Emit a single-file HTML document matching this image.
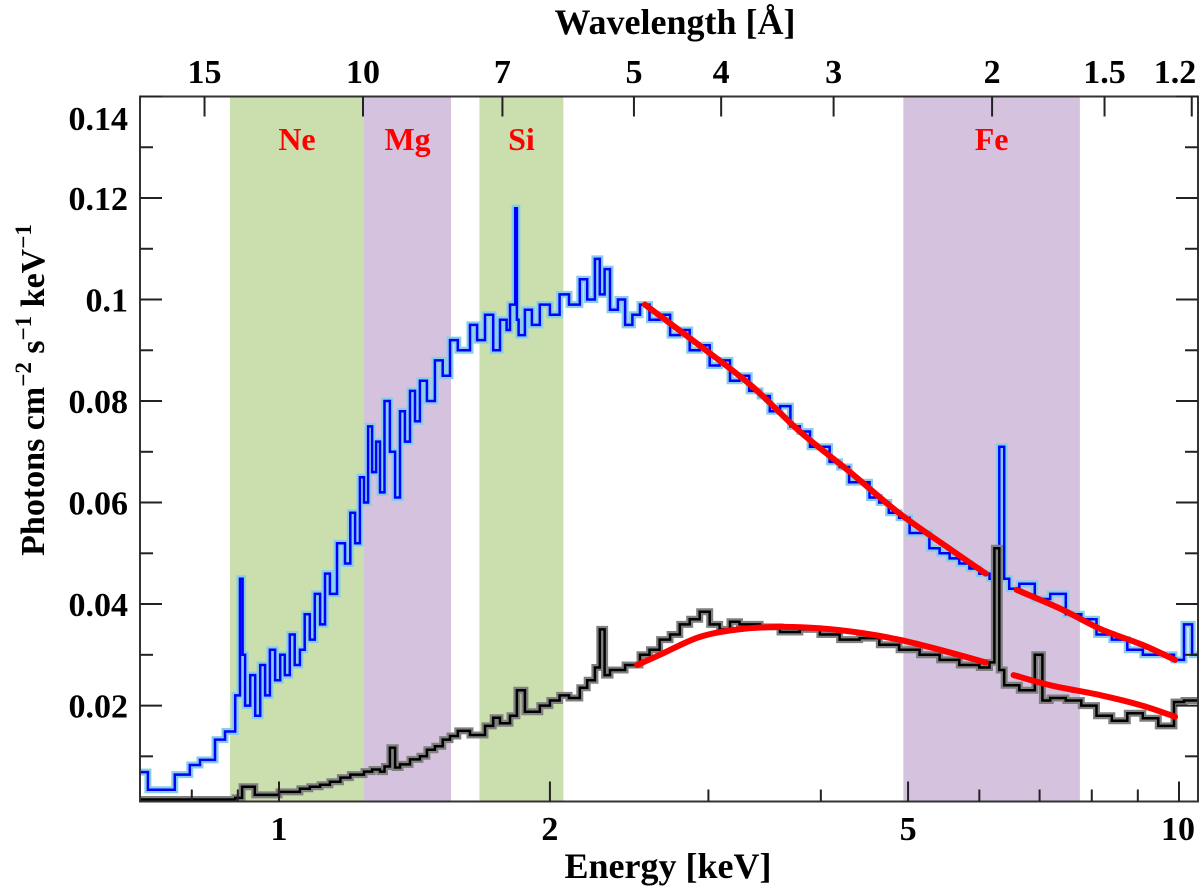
<!DOCTYPE html>
<html><head><meta charset="utf-8"><style>
body{margin:0;background:#fff}
svg text{font-family:"Liberation Serif",serif;font-weight:bold}
</style></head><body>
<svg id="chart" width="1200" height="890" viewBox="0 0 1200 890" xmlns="http://www.w3.org/2000/svg"></svg>
<script>
// ---- data ----
const blueE = [0.701,0.715,0.738,0.766,0.796,0.817,0.849,0.871,0.894,0.905,0.911,0.917,0.929,0.941,0.953,0.965,0.977,0.99,1.003,1.015,1.028,1.041,1.055,1.068,1.082,1.096,1.111,1.125,1.139,1.16,1.184,1.2,1.215,1.23,1.243,1.256,1.269,1.282,1.295,1.31,1.328,1.346,1.363,1.38,1.398,1.416,1.434,1.46,1.49,1.52,1.549,1.58,1.63,1.66,1.694,1.73,1.76,1.79,1.806,1.83,1.838,1.846,1.876,1.91,1.949,2.0,2.05,2.1,2.159,2.2,2.244,2.272,2.3,2.332,2.38,2.424,2.47,2.518,2.58,2.648,2.72,2.788,2.86,2.934,3.01,3.087,3.17,3.248,3.33,3.424,3.51,3.603,3.7,3.79,3.89,3.99,4.09,4.196,4.3,4.417,4.53,4.645,4.76,4.887,5.02,5.15,5.28,5.42,5.56,5.7,5.85,6.0,6.158,6.236,6.314,6.394,6.477,6.646,6.914,7.192,7.485,7.788,8.098,8.42,8.762,9.115,9.485,9.872,10.13,10.34,10.5];
const blueV = [0.0069,0.0034,0.0034,0.0064,0.0083,0.0093,0.0133,0.0149,0.022,0.045,0.030,0.020,0.026,0.018,0.028,0.022,0.031,0.025,0.030,0.026,0.034,0.028,0.031,0.038,0.033,0.042,0.036,0.046,0.042,0.052,0.048,0.058,0.052,0.065,0.060,0.075,0.066,0.072,0.062,0.080,0.070,0.061,0.078,0.072,0.082,0.076,0.084,0.080,0.088,0.085,0.092,0.090,0.095,0.092,0.097,0.090,0.096,0.094,0.099,0.118,0.096,0.093,0.098,0.095,0.099,0.097,0.101,0.099,0.104,0.100,0.108,0.101,0.106,0.098,0.100,0.095,0.097,
0.099,0.096,0.097,0.093,0.094,0.090,0.091,0.087,0.088,0.084,0.085,0.082,0.081,0.078,0.079,0.075,0.074,0.071,0.071,0.068,0.067,0.064,0.064,0.061,0.060,0.058,0.057,0.054,0.054,0.051,0.050,0.049,0.048,0.047,0.046,0.045,0.050,0.071,0.045,0.043,0.044,0.041,0.042,0.038,0.037,0.034,0.033,0.031,0.030,0.030,0.029,0.036,0.030,0.030];
const blackE = [0.701,0.894,0.91,0.94,0.97,1.0,1.028,1.055,1.082,1.111,1.139,1.17,1.2,1.243,1.269,1.295,1.31,1.328,1.346,1.363,1.398,1.434,1.46,1.49,1.52,1.549,1.58,1.63,1.694,1.73,1.76,1.806,1.838,1.876,1.949,2.0,2.05,2.1,2.159,2.2,2.244,2.272,2.3,2.332,2.424,2.518,2.58,2.648,2.72,2.788,2.86,2.934,3.01,3.087,3.17,3.248,3.424,3.603,3.79,3.99,4.196,4.417,4.645,4.887,5.15,5.42,5.7,6.0,6.158,6.236,6.314,6.394,6.646,6.914,7.05,7.192,7.485,7.788,8.098,8.42,8.762,9.115,9.485,9.872,10.13,10.5];
const blackV = [0.0015,0.0018,0.0040,0.0024,0.0024,0.0030,0.0030,0.0036,0.0040,0.0044,0.0050,0.0058,0.0064,0.0070,0.0074,0.0070,0.0080,0.0117,0.0078,0.0084,0.0094,0.0100,0.0113,0.0120,0.0133,0.0140,0.0150,0.0142,0.0160,0.0176,0.0165,0.0180,0.0230,0.0188,0.0200,0.0210,0.0220,0.0215,0.0235,0.0250,0.0275,0.0350,0.0260,0.0270,0.0280,0.0300,0.0310,0.0330,0.0340,0.0360,0.0370,0.0385,0.0360,0.0350,0.0365,0.0360,0.0355,0.0345,0.0350,0.0340,0.0330,0.0333,0.0320,0.0310,0.0300,0.0290,0.0280,0.0275,0.0285,0.0510,0.0270,0.0240,0.0230,0.0300,0.0210,0.0215,0.0210,0.0200,0.0180,0.0170,0.0185,0.0175,0.0160,0.0207,0.0210,0.0210];
const modelBlueE1 = [2.55,2.93,3.35,3.79,4.31,4.88,5.55,6.1];
const modelBlueV1 = [0.099,0.091,0.083,0.074,0.066,0.058,0.051,0.046];
const modelBlueE2 = [6.6,7.4,8.2,9.1,9.9];
const modelBlueV2 = [0.0428,0.039,0.035,0.032,0.029];
const modelBlackE1 = [2.5,2.65,2.93,3.24,3.6,4.0,4.44,4.88,5.42,6.1];
const modelBlackV1 = [0.028,0.030,0.0335,0.035,0.0355,0.0352,0.0343,0.033,0.031,0.0285];
const modelBlackE2 = [6.55,7.2,8.2,9.1,9.9];
const modelBlackV2 = [0.026,0.024,0.022,0.020,0.0178];
const bandStart = [0.882,1.243,1.67,4.94];
const bandEnd = [1.243,1.553,2.07,7.76];
const bandLabels = ["Ne","Mg","Si","Fe"];
const bandColors = ["#cadfad","#d4c2de","#cadfad","#d4c2de"];
const yTicks = [0.02,0.04,0.06,0.08,0.1,0.12,0.14];
const yTickLabels = ["0.02","0.04","0.06","0.08","0.1","0.12","0.14"];
const xMajor = [1,2,5,10];
const xMinor = [0.8,0.9,3,4,6,7,8,9];
const wlTicks = [15,10,7,5,4,3,2,1.5,1.2];

// ---- axes ----
const L=140,R=1198,T=96.5,B=801.5;
const Vmin=0.0011,Vmax=0.14;
const x = e => 279 + 900*Math.log10(e);
const y = v => B - (v - Vmin)/(Vmax - Vmin)*(B - T);
const svg=document.getElementById('chart');
const NS="http://www.w3.org/2000/svg";
function mk(tag,attrs,parent){const el=document.createElementNS(NS,tag);for(const k in attrs)el.setAttribute(k,attrs[k]);(parent||svg).appendChild(el);return el;}

const defs=mk('defs',{});const cp=mk('clipPath',{id:'clip'},defs);mk('rect',{x:L,y:T,width:R-L,height:B-T},cp);

bandStart.forEach((s,i)=>{
  const r=mk('rect',{x:x(s),y:T,width:x(bandEnd[i])-x(s),height:B-T,fill:bandColors[i]});
  
  
  const t=mk('text',{x:(x(s)+x(bandEnd[i]))/2,y:150,'text-anchor':'middle','font-size':32,fill:'#ff0000'});
  t.textContent=bandLabels[i];
  
  
});

function stepPath(E,V){
  let d='M'+x(E[0]).toFixed(1)+','+y(V[0]).toFixed(1);
  for(let i=0;i<V.length;i++){
    const xe = i+1<E.length? x(E[i+1]) : R;
    d+=' H'+xe.toFixed(1);
    if(i+1<V.length) d+=' V'+y(V[i+1]).toFixed(1);
  }
  return d;
}
function smoothPath(E,V){
  const P=E.map((e,i)=>[x(e),y(V[i])]);
  let d='M'+P[0][0].toFixed(1)+','+P[0][1].toFixed(1);
  for(let i=0;i<P.length-1;i++){
    const p0=P[Math.max(i-1,0)],p1=P[i],p2=P[i+1],p3=P[Math.min(i+2,P.length-1)];
    const c1=[p1[0]+(p2[0]-p0[0])/6,p1[1]+(p2[1]-p0[1])/6];
    const c2=[p2[0]-(p3[0]-p1[0])/6,p2[1]-(p3[1]-p1[1])/6];
    d+=' C'+c1[0].toFixed(1)+','+c1[1].toFixed(1)+' '+c2[0].toFixed(1)+','+c2[1].toFixed(1)+' '+p2[0].toFixed(1)+','+p2[1].toFixed(1);
  }
  return d;
}

const g=mk('g',{'clip-path':'url(#clip)'});
let p;
p=mk('path',{d:stepPath(blueE,blueV),fill:'none',stroke:'#87ceeb','stroke-width':7},g);


p=mk('path',{d:stepPath(blueE,blueV),fill:'none',stroke:'#0000ff','stroke-width':2.5},g);


p=mk('path',{d:stepPath(blackE,blackV),fill:'none',stroke:'#808080','stroke-width':7},g);


p=mk('path',{d:stepPath(blackE,blackV),fill:'none',stroke:'#000','stroke-width':2.5},g);


[[modelBlueE1,modelBlueV1,'blue-model-low'],[modelBlueE2,modelBlueV2,'blue-model-high'],[modelBlackE1,modelBlackV1,'black-model-low'],[modelBlackE2,modelBlackV2,'black-model-high']].forEach(m=>{
  const q=mk('path',{d:smoothPath(m[0],m[1]),fill:'none',stroke:'#ff0000','stroke-width':6,'stroke-linecap':'round'},g);
  
  
});

const fr=mk('rect',{x:L,y:T,width:R-L,height:B-T,fill:'none',stroke:'#333','stroke-width':2});



yTicks.forEach((v,i)=>{
  mk('line',{x1:L,x2:L+22,y1:y(v),y2:y(v),stroke:'#222','stroke-width':2});
  mk('line',{x1:R-22,x2:R,y1:y(v),y2:y(v),stroke:'#222','stroke-width':2});
  const mv=v-0.01;
  mk('line',{x1:L,x2:L+13,y1:y(mv),y2:y(mv),stroke:'#222','stroke-width':2});
  mk('line',{x1:R-13,x2:R,y1:y(mv),y2:y(mv),stroke:'#222','stroke-width':2});
  const t=mk('text',{x:128,y:Math.max(y(v),118)+12,'text-anchor':'end','font-size':34});
  t.textContent=yTickLabels[i];
  
  
});
xMajor.forEach(e=>{
  mk('line',{x1:x(e),x2:x(e),y1:B,y2:B-20,stroke:'#222','stroke-width':2});
  const t=mk('text',{x:Math.min(x(e),1178),y:840,'text-anchor':'middle','font-size':34});
  t.textContent=String(e);
  
  
});
xMinor.forEach(e=>{mk('line',{x1:x(e),x2:x(e),y1:B,y2:B-12,stroke:'#222','stroke-width':2});});
wlTicks.forEach(w=>{
  const xe=x(12.398/w);
  mk('line',{x1:xe,x2:xe,y1:T,y2:T+20,stroke:'#222','stroke-width':2});
  const t=mk('text',{x:Math.min(xe,1175),y:83,'text-anchor':'middle','font-size':34});
  t.textContent=String(w);
  
  
});
</script>
<svg style="position:absolute;left:0;top:0" width="1200" height="890">
<text x="668" y="878" text-anchor="middle" font-size="36" font-family="Liberation Serif, serif" font-weight="bold">Energy [keV]</text>
<text x="675" y="34" text-anchor="middle" font-size="36" font-family="Liberation Serif, serif" font-weight="bold">Wavelength [Å]</text>
<text transform="translate(44,390) rotate(-90)" text-anchor="middle" font-size="34" font-family="Liberation Serif, serif" font-weight="bold">Photons cm<tspan dy="-13" font-size="23">−2</tspan><tspan dy="13"> s</tspan><tspan dy="-13" font-size="23">−1</tspan><tspan dy="13"> keV</tspan><tspan dy="-13" font-size="23">−1</tspan></text>
</svg>
</body></html>
